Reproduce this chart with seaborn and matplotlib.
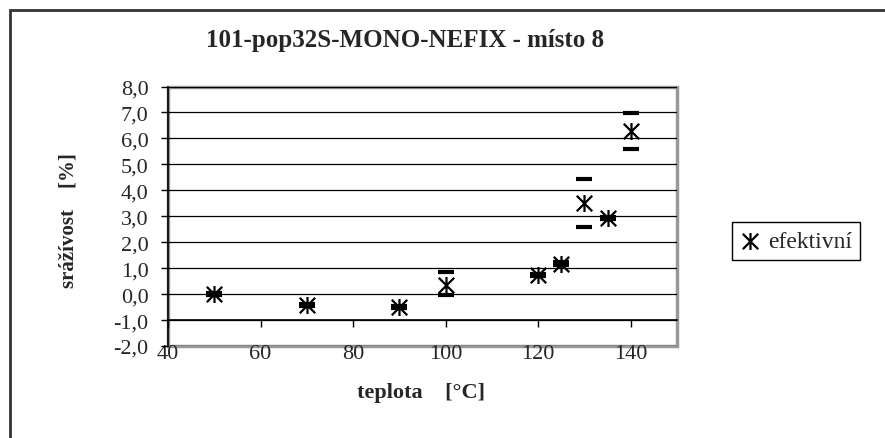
import matplotlib
matplotlib.use('Agg')
import matplotlib.pyplot as plt
import seaborn as sns
import numpy as np
import pandas as pd
from matplotlib.path import Path
from matplotlib.patches import Rectangle
from matplotlib.ticker import FuncFormatter, MultipleLocator

# data
teplota = [50, 70, 90, 100, 120, 125, 130, 135, 140]
srazivost = [0.0, -0.42, -0.5, 0.35, 0.73, 1.17, 3.5, 2.93, 6.27]
dolni = [-0.05, -0.47, -0.55, -0.03, 0.68, 1.12, 2.57, 2.88, 5.58]
horni = [0.05, -0.37, -0.45, 0.84, 0.78, 1.22, 4.44, 2.98, 6.97]

df = pd.DataFrame({'teplota': teplota, 'srazivost': srazivost,
                   'dolni': dolni, 'horni': horni})

sns.set_style('white')
plt.rcParams['font.family'] = ['Liberation Serif', 'DejaVu Serif']

# Excel-like asterisk: X with a vertical stroke
star = Path([(-1, -1), (1, 1), (-1, 1), (1, -1), (0, -1.1), (0, 1.1)],
            [Path.MOVETO, Path.LINETO, Path.MOVETO, Path.LINETO,
             Path.MOVETO, Path.LINETO])

fig = plt.figure(figsize=(8.85, 4.39), dpi=100)
ax = fig.add_axes([168 / 885, 1 - 347 / 439, 509 / 885, 259.5 / 439])

# error caps only (no vertical line)
yerr = np.array([df['srazivost'] - df['dolni'], df['horni'] - df['srazivost']])
eb = ax.errorbar(df['teplota'], df['srazivost'], yerr=yerr, fmt='none',
                 ecolor='black', elinewidth=0, capsize=6, capthick=3, zorder=3)
for lc in eb[2]:
    lc.set_visible(False)

sns.scatterplot(data=df, x='teplota', y='srazivost', marker=star, s=150,
                color='black', edgecolor='black', linewidth=1.6,
                label='efektivní', ax=ax, zorder=4)

ax.set_xlim(40, 150)
ax.set_ylim(-2, 8)
ax.yaxis.set_major_locator(MultipleLocator(1))
ax.set_xticks([40, 60, 80, 100, 120, 140])
ax.yaxis.set_major_formatter(FuncFormatter(lambda v, p: f'{v:.1f}'.replace('.', ',')))

ax.grid(axis='y', color='black', linewidth=0.9)
ax.grid(axis='x', visible=False)
ax.set_axisbelow(True)

ax.spines['left'].set_color('black')
ax.spines['left'].set_linewidth(1.2)
ax.spines['bottom'].set_position(('data', -1))
ax.spines['bottom'].set_color('black')
ax.spines['bottom'].set_linewidth(1.2)
ax.spines['top'].set_visible(False)
ax.spines['right'].set_visible(False)
ax.patch.set_edgecolor('#999999')
ax.patch.set_linewidth(2.5)

ax.tick_params(axis='x', direction='out', length=5, width=1, color='black',
               pad=12, labelsize=16, bottom=True)
ax.tick_params(axis='y', direction='out', length=5, width=1, color='black',
               pad=9, labelsize=16, left=True)

ax.set_xlabel('')
ax.set_ylabel('')
fig.text(421 / 885, 1 - 393 / 439, 'teplota    [°C]', ha='center', va='center',
         fontsize=16, fontweight='bold')
fig.text(68 / 885, 1 - 221 / 439, 'srážívost    [%]', ha='center', va='center',
         rotation=90, fontsize=15, fontweight='bold')
fig.text(405 / 885, 1 - 40 / 439, '101-pop32S-MONO-NEFIX - místo 8',
         ha='center', va='center', fontsize=18, fontweight='bold')

leg = ax.legend(loc='center', bbox_to_anchor=(796 / 885, 1 - 242 / 439),
                bbox_transform=fig.transFigure, frameon=True, fancybox=False,
                edgecolor='black', framealpha=1, fontsize=17, handletextpad=0.3,
                borderpad=0.35, handlelength=0.9, borderaxespad=0)
leg.get_frame().set_linewidth(1.0)

# outer chart border (runs off right and bottom)
fig.patches.append(Rectangle((9.5 / 885, -0.2), 1.2, 1.2 - 10.5 / 439,
                             transform=fig.transFigure, fill=False,
                             edgecolor='#333333', linewidth=2))

fig.savefig('out.png', dpi=100)
